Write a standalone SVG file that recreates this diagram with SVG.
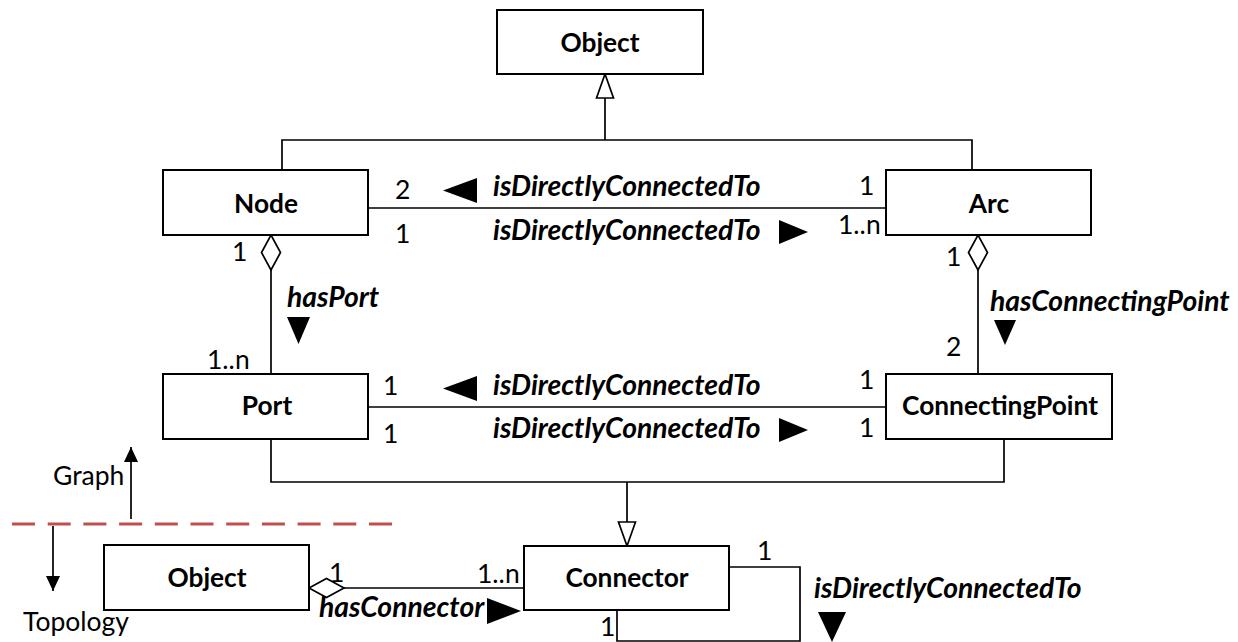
<svg xmlns="http://www.w3.org/2000/svg" width="1238" height="642" viewBox="0 0 1238 642">
<style>
.box{fill:#fff;stroke:#000;stroke-width:2}
.ln{fill:none;stroke:#000;stroke-width:1.7}
.dir{fill:#000;stroke:none}
.nm{font-family:Lato,"Liberation Sans",sans-serif;font-weight:bold;font-size:26.3px;text-anchor:middle;fill:#000}
.lb{font-family:Lato,"Liberation Sans",sans-serif;font-weight:bold;font-style:italic;font-size:28.3px;fill:#000}
.mu{font-family:Lato,"Liberation Sans",sans-serif;font-size:26.5px;fill:#000}
</style>
<defs>
<marker id="gen" markerUnits="userSpaceOnUse" markerWidth="28" markerHeight="22" refX="24" refY="8.5" orient="auto" overflow="visible">
<path d="M0,0 L24,8.5 L0,17 Z" fill="#fff" stroke="#000" stroke-width="1.7"/>
</marker>
<marker id="agg" markerUnits="userSpaceOnUse" markerWidth="38" markerHeight="22" refX="35" refY="9.5" orient="auto" overflow="visible">
<path d="M0,9.5 L17.5,0 L35,9.5 L17.5,19 Z" fill="#fff" stroke="#000" stroke-width="1.7"/>
</marker>
<marker id="tip" markerUnits="userSpaceOnUse" markerWidth="16" markerHeight="16" refX="15" refY="7" orient="auto" overflow="visible">
<path d="M0,0 L15,7 L0,14 Z" fill="#000"/>
</marker>
</defs>

<g id="connectors">
<path class="ln" d="M282,170 V140 H972 V170"/>
<path class="ln" d="M605,140 V74" marker-end="url(#gen)"/>
<path class="ln" d="M368,208 H886"/>
<path class="ln" d="M271,374 V235" marker-end="url(#agg)"/>
<path class="ln" d="M978,374 V235" marker-end="url(#agg)"/>
<path class="ln" d="M368,407 H886"/>
<path class="ln" d="M271,439 V482 H1004 V439"/>
<path class="ln" d="M627,482 V546" marker-end="url(#gen)"/>
<path class="ln" d="M524,588 H309" marker-end="url(#agg)"/>
<path class="ln" d="M729,567 H800 V641 H617 V610"/>

<polygon class="dir" points="443,190.5 477,178 477,203"/>
<polygon class="dir" points="808,232 779,220 779,244"/>
<polygon class="dir" points="287,317 310,317 298.5,344"/>
<polygon class="dir" points="994,320 1016,320 1005,345"/>
<polygon class="dir" points="443,388.5 477,376 477,401"/>
<polygon class="dir" points="808,430 779,418 779,442"/>
<polygon class="dir" points="521,611 487,598 487,624"/>
<polygon class="dir" points="818,612 846,612 832,642"/>

<text class="mu" x="395" y="199">2</text>
<text class="mu" x="395" y="243">1</text>
<text class="mu" x="859" y="195">1</text>
<text class="mu" x="838" y="234">1..n</text>
<text class="lb" x="493" y="196">isDirectlyConnectedTo</text>
<text class="lb" x="493" y="240">isDirectlyConnectedTo</text>

<text class="mu" x="232" y="261">1</text>
<text class="lb" x="287" y="307">hasPort</text>
<text class="mu" x="207" y="369">1..n</text>

<text class="mu" x="946" y="266">1</text>
<text class="lb" x="990" y="311">hasConnectingPoint</text>
<text class="mu" x="946" y="356">2</text>

<text class="mu" x="383" y="395">1</text>
<text class="mu" x="383" y="443">1</text>
<text class="mu" x="859" y="389">1</text>
<text class="mu" x="859" y="437">1</text>
<text class="lb" x="493" y="395">isDirectlyConnectedTo</text>
<text class="lb" x="493" y="438">isDirectlyConnectedTo</text>

<text class="mu" x="329" y="582">1</text>
<text class="mu" x="477" y="583">1..n</text>
<text class="lb" x="319" y="617">hasConnector</text>
<text class="mu" x="757" y="560">1</text>
<text class="mu" x="600" y="636">1</text>
<text class="lb" x="814" y="598">isDirectlyConnectedTo</text>
</g>

<g id="Object"><rect class="box" x="497" y="10" width="206" height="64"/><text class="nm" x="600" y="52">Object</text></g>
<g id="Node"><rect class="box" x="163" y="170" width="205" height="65"/><text class="nm" x="266" y="213">Node</text></g>
<g id="Arc"><rect class="box" x="886" y="170" width="205" height="65"/><text class="nm" x="989" y="213">Arc</text></g>
<g id="Port"><rect class="box" x="163" y="374" width="205" height="65"/><text class="nm" x="267" y="415">Port</text></g>
<g id="ConnectingPoint"><rect class="box" x="886" y="374" width="226" height="65"/><text class="nm" x="1000" y="415">ConnectingPoint</text></g>
<g id="Connector"><rect class="box" x="524" y="546" width="205" height="64"/><text class="nm" x="627" y="587">Connector</text></g>
<g id="Object2"><rect class="box" x="104" y="545" width="205" height="65"/><text class="nm" x="207" y="587">Object</text></g>

<g id="layers">
<line x1="12" y1="524" x2="395" y2="524" stroke="#C0504D" stroke-width="3" stroke-dasharray="23,12.7"/>
<line x1="131" y1="519" x2="131" y2="447" stroke="#000" stroke-width="1.7" marker-end="url(#tip)"/>
<line x1="53" y1="526" x2="53" y2="591" stroke="#000" stroke-width="1.7" marker-end="url(#tip)"/>
<text class="mu" x="53" y="485">Graph</text>
<text class="mu" x="23" y="631">Topology</text>
</g>
</svg>
